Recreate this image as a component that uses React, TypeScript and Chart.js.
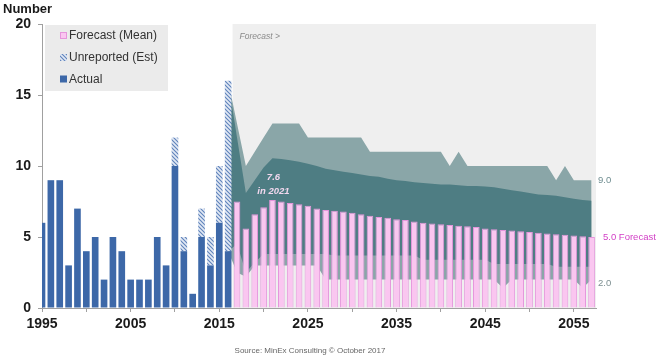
import React, { useEffect, useRef } from 'react';
import { Chart, registerables } from 'chart.js';

Chart.register(...registerables);

const FONT = '"Liberation Sans", Arial, Helvetica, sans-serif';

// ---------- data ----------
const actualYears = [1995, 1996, 1997, 1998, 1999, 2000, 2001, 2002, 2003, 2004, 2005, 2006, 2007, 2008, 2009, 2010, 2011, 2012, 2013, 2014, 2015, 2016];
const actualValues = [6, 9, 9, 3, 7, 4, 5, 2, 5, 4, 2, 2, 2, 5, 3, 10, 4, 1, 5, 3, 6, 4];
const unreportedValues = [0, 0, 0, 0, 0, 0, 0, 0, 0, 0, 0, 0, 0, 0, 0, 2, 1, 0, 2, 2, 4, 12];

const forecastYears = [2017, 2018, 2019, 2020, 2021, 2022, 2023, 2024, 2025, 2026, 2027, 2028, 2029, 2030, 2031, 2032, 2033, 2034, 2035, 2036, 2037, 2038, 2039, 2040, 2041, 2042, 2043, 2044, 2045, 2046, 2047, 2048, 2049, 2050, 2051, 2052, 2053, 2054, 2055, 2056, 2057];
const forecastMean = [7.5, 5.6, 6.6, 7.1, 7.6, 7.5, 7.4, 7.3, 7.2, 7.0, 6.9, 6.85, 6.8, 6.7, 6.6, 6.5, 6.4, 6.35, 6.25, 6.2, 6.1, 6.0, 5.95, 5.9, 5.85, 5.8, 5.75, 5.7, 5.6, 5.55, 5.5, 5.45, 5.4, 5.35, 5.3, 5.25, 5.2, 5.15, 5.1, 5.05, 5.0];

const bandYears = [2016, 2017, 2018, 2019, 2020, 2021, 2022, 2023, 2024, 2025, 2026, 2027, 2028, 2029, 2030, 2031, 2032, 2033, 2034, 2035, 2036, 2037, 2038, 2039, 2040, 2041, 2042, 2043, 2044, 2045, 2046, 2047, 2048, 2049, 2050, 2051, 2052, 2053, 2054, 2055, 2056, 2057];
const outerUpper = [16, 13, 10, 11, 12, 13, 13, 13, 13, 12, 12, 12, 12, 12, 12, 12, 11, 11, 11, 11, 11, 11, 11, 11, 11, 10, 11, 10, 10, 10, 10, 10, 10, 10, 10, 10, 10, 9, 10, 9, 9, 9];
const outerLower = [4, 2.5, 2.2, 3, 3, 3, 3, 3, 3, 3, 3, 2, 2, 2, 2, 2, 2, 2, 2, 2, 2, 2, 2, 2, 2, 2, 2, 2, 2, 2, 2, 1.4, 2, 2, 2, 2, 2, 2, 2, 2, 1.4, 2];
const innerUpper = [16, 12, 8.1, 9, 9.9, 10.55, 10.5, 10.4, 10.3, 10.15, 10.0, 9.8, 9.7, 9.6, 9.5, 9.4, 9.3, 9.25, 9.1, 9.0, 8.95, 8.85, 8.8, 8.75, 8.7, 8.7, 8.65, 8.6, 8.6, 8.55, 8.5, 8.4, 8.3, 8.2, 8.1, 8.0, 7.95, 7.9, 7.8, 7.7, 7.6, 7.55];
const innerLower = [4, 4.5, 2.5, 3.2, 3.8, 3.8, 3.8, 3.8, 3.8, 3.8, 3.8, 3.8, 3.7, 3.7, 3.7, 3.7, 3.7, 3.7, 3.7, 3.7, 3.7, 3.7, 3.4, 3.4, 3.4, 3.4, 3.4, 3.4, 3.4, 3.4, 3.1, 3.1, 3.1, 3.1, 3.1, 3.1, 3.1, 2.9, 2.9, 2.9, 2.9, 2.9];

const xTickValues = [1995, 2000, 2005, 2010, 2015, 2020, 2025, 2030, 2035, 2040, 2045, 2050, 2055];
const xLabelYears = [1995, 2005, 2015, 2025, 2035, 2045, 2055];
const yMin = 0;
const yMax = 20;
const yStep = 5;
const xMin = 1995;
const xMax = 2057.5;
const forecastRegionStart = 2016.5;

const legendLabels = ['Forecast (Mean)', 'Unreported (Est)', 'Actual'];
const endLabelValues = [9.0, 5.0, 2.0];
const endLabelTexts = ['9.0', '5.0 Forecast', '2.0'];
const yTitle = 'Number';
const forecastTag = 'Forecast >';
const sourceText = 'Source: MinEx Consulting \u00A9 October 2017';

// ---------- colours ----------
const C_ACTUAL = '#3d68a8';
const C_PINK = '#fac6f0';
const C_PINK_BORDER = '#e596dc';
const C_OUTER = '#8aa6a8';
const C_INNER = '#4e7d83';
const C_BG = '#efefef';
const C_AXIS = '#a0a0a0';
const C_TEXT = '#1a1a1a';

function makeHatch(ctx: CanvasRenderingContext2D): CanvasPattern | string {
  const c = document.createElement('canvas');
  c.width = 4;
  c.height = 4;
  const g = c.getContext('2d');
  if (!g) return '#9fb4d6';
  g.fillStyle = '#e2e9f4';
  g.fillRect(0, 0, 4, 4);
  g.strokeStyle = '#5f83bb';
  g.lineWidth = 1.1;
  g.beginPath();
  g.moveTo(0, 0); g.lineTo(4, 4);
  g.moveTo(-1, 3); g.lineTo(1, 5);
  g.moveTo(3, -1); g.lineTo(5, 1);
  g.stroke();
  return ctx.createPattern(c, 'repeat') || '#9fb4d6';
}

export default function App() {
  const ref = useRef<HTMLCanvasElement>(null);

  useEffect(() => {
    const canvas = ref.current;
    if (!canvas) return;
    const ctx0 = canvas.getContext('2d') as CanvasRenderingContext2D;
    const hatch = makeHatch(ctx0);

    let peakIdx = 0;
    forecastMean.forEach((v, i) => { if (v > forecastMean[peakIdx]) peakIdx = i; });
    const peakYear = forecastYears[peakIdx];
    const peakValue = forecastMean[peakIdx];

    const overlay = {
      id: 'overlay',
      beforeDatasetsDraw(chart: any) {
        const { ctx, chartArea, scales } = chart;
        const x0 = scales.x.getPixelForValue(forecastRegionStart);
        ctx.save();
        ctx.fillStyle = C_BG;
        ctx.fillRect(x0, chartArea.top, chartArea.right - x0, chartArea.bottom - chartArea.top);
        ctx.restore();
      },
      afterDraw(chart: any) {
        const { ctx, chartArea, scales } = chart;
        const xs = scales.x;
        const ys = scales.y;
        ctx.save();
        // title
        ctx.fillStyle = C_TEXT;
        ctx.font = `bold 13px ${FONT}`;
        ctx.textAlign = 'left';
        ctx.textBaseline = 'middle';
        ctx.fillText(yTitle, 3, 9);

        // legend
        ctx.fillStyle = '#ebebeb';
        ctx.fillRect(45, 25, 123, 66);
        const itemY = [35.5, 57.5, 79];
        const fills: any[] = [C_PINK, hatch, C_ACTUAL];
        ctx.font = `12px ${FONT}`;
        legendLabels.forEach((lab, i) => {
          const y = itemY[i];
          ctx.fillStyle = fills[i];
          ctx.fillRect(60, y - 3.5, 7, 7);
          if (i === 0) {
            ctx.strokeStyle = C_PINK_BORDER;
            ctx.lineWidth = 1;
            ctx.strokeRect(60.5, y - 3, 6, 6);
          }
          ctx.fillStyle = '#333333';
          ctx.textBaseline = 'middle';
          ctx.fillText(lab, 69, y + 0.5);
        });

        // forecast tag
        const x0 = xs.getPixelForValue(forecastRegionStart);
        ctx.font = `italic 8.5px ${FONT}`;
        ctx.fillStyle = '#8a8a8a';
        ctx.fillText(forecastTag, x0 + 7, chartArea.top + 13);

        // peak annotation
        const px = xs.getPixelForValue(peakYear);
        const py = ys.getPixelForValue(peakValue);
        ctx.font = `italic bold 9.5px ${FONT}`;
        ctx.fillStyle = '#f2d8ee';
        ctx.textAlign = 'center';
        ctx.fillText(String(peakValue), px + 1, py - 22.5);
        ctx.fillText(`in ${peakYear}`, px + 1, py - 9);

        // end labels
        ctx.textAlign = 'left';
        ctx.font = `9.5px ${FONT}`;
        const endColors = ['#6f8d90', '#d23fc6', '#7d8f91'];
        const endDx = [2, 7, 2];
        const endDy = [0, 0, 4];
        endLabelValues.forEach((v, i) => {
          ctx.fillStyle = endColors[i];
          ctx.fillText(endLabelTexts[i], chartArea.right + endDx[i], ys.getPixelForValue(v) + endDy[i]);
        });

        // source
        ctx.font = `8px ${FONT}`;
        ctx.fillStyle = '#666666';
        ctx.textAlign = 'center';
        ctx.fillText(sourceText, 310, 351);
        ctx.restore();
      },
    };

    const line = (data: number[], fill: any, color: string, order: number) => ({
      type: 'line' as const,
      data: bandYears.map((yr, i) => ({ x: yr, y: data[i] })),
      borderColor: 'transparent',
      borderWidth: 0,
      pointRadius: 0,
      tension: 0,
      fill,
      backgroundColor: color,
      order,
    });

    const barCommon = {
      grouped: false,
      categoryPercentage: 1,
      barPercentage: 0.75,
    };

    const chart = new Chart(canvas, {
      type: 'bar',
      data: {
        datasets: [
          line(outerUpper, '+1', C_OUTER, 10) as any,
          line(outerLower, false, 'transparent', 11) as any,
          line(innerUpper, '+1', C_INNER, 8) as any,
          line(innerLower, false, 'transparent', 9) as any,
          {
            type: 'bar',
            data: actualYears
              .map((yr, i) => ({ x: yr, y: [actualValues[i], actualValues[i] + unreportedValues[i]] }))
              .filter((d) => d.y[1] > d.y[0]),
            backgroundColor: hatch as any,
            borderWidth: 0,
            ...barCommon,
            order: 3,
          } as any,
          {
            type: 'bar',
            data: actualYears.map((yr, i) => ({ x: yr, y: actualValues[i] })),
            backgroundColor: C_ACTUAL,
            borderWidth: 0,
            ...barCommon,
            order: 2,
          } as any,
          {
            type: 'bar',
            data: forecastYears.map((yr, i) => ({ x: yr, y: forecastMean[i] })),
            backgroundColor: C_PINK,
            borderColor: C_PINK_BORDER,
            borderWidth: 1,
            ...barCommon,
            order: 1,
          } as any,
        ],
      },
      options: {
        animation: false,
        responsive: true,
        maintainAspectRatio: false,
        layout: { padding: { top: 24, right: 62, bottom: 19, left: 0 } },
        plugins: {
          legend: { display: false },
          tooltip: { enabled: false },
        },
        scales: {
          x: {
            type: 'linear',
            offset: false,
            min: xMin,
            max: xMax,
            afterBuildTicks: (s: any) => {
              s.ticks = xTickValues.map((v) => ({ value: v }));
            },
            afterFit: (s: any) => {
              s.height = 30;
            },
            ticks: {
              autoSkip: false,
              maxRotation: 0,
              padding: 4,
              color: C_TEXT,
              font: { family: FONT, size: 14, weight: 'bold' },
              callback: (v: any) => (xLabelYears.includes(Number(v)) ? String(v) : ''),
            },
            grid: { offset: false, drawOnChartArea: false, drawTicks: true, tickLength: 4, color: C_AXIS },
            border: { display: true, color: C_AXIS },
          },
          y: {
            min: yMin,
            max: yMax,
            afterFit: (s: any) => {
              s.width = 42;
            },
            ticks: {
              stepSize: yStep,
              padding: 7,
              color: C_TEXT,
              font: { family: FONT, size: 14, weight: 'bold' },
            },
            grid: { drawOnChartArea: false, drawTicks: true, tickLength: 4, color: C_AXIS },
            border: { display: true, color: C_AXIS },
          },
        },
      } as any,
      plugins: [overlay as any],
    });

    return () => chart.destroy();
  }, []);

  return (
    <div style={{ position: 'absolute', left: 0, top: 0, width: 658, height: 357, background: '#ffffff' }}>
      <canvas ref={ref} />
    </div>
  );
}
